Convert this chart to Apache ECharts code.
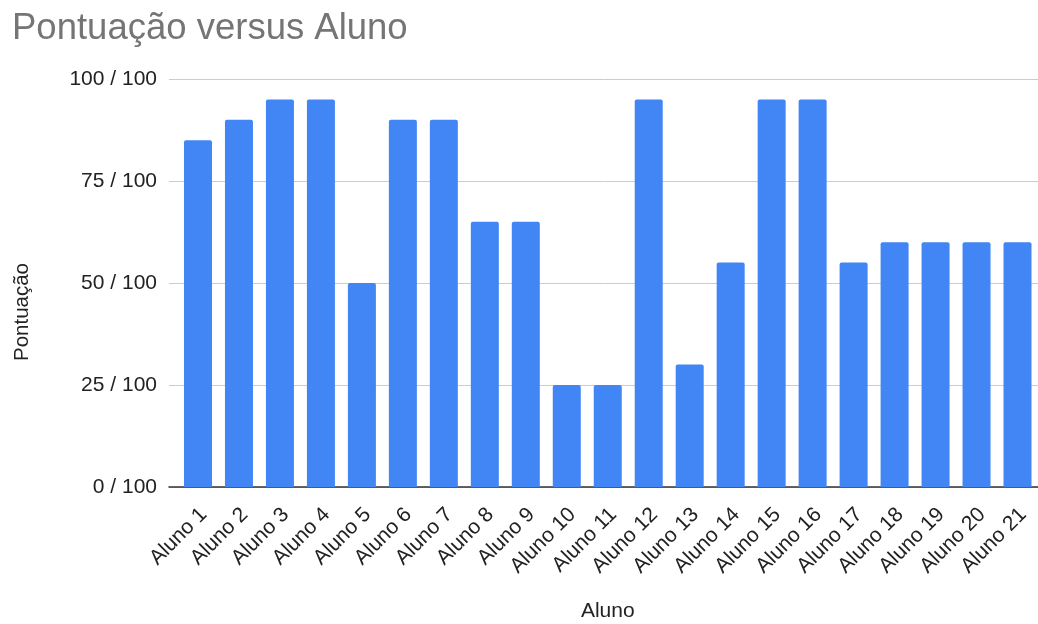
<!DOCTYPE html>
<html>
<head>
<meta charset="utf-8">
<script src="https://cdn.jsdelivr.net/npm/echarts@6/dist/echarts.min.js"></script>
<style>
html,body{margin:0;padding:0;background:#fff;}
#chart{width:1038px;height:624px;}
</style>
</head>
<body>
<div id="chart"></div>
<script>
const categories = ['Aluno 1','Aluno 2','Aluno 3','Aluno 4','Aluno 5','Aluno 6','Aluno 7','Aluno 8','Aluno 9','Aluno 10','Aluno 11','Aluno 12','Aluno 13','Aluno 14','Aluno 15','Aluno 16','Aluno 17','Aluno 18','Aluno 19','Aluno 20','Aluno 21'];
const scores = [85, 90, 95, 95, 50, 90, 90, 65, 65, 25, 25, 95, 30, 55, 95, 95, 55, 60, 60, 60, 60];
const yTickValues = [0, 25, 50, 75, 100];
const yTickLabels = ['0 / 100', '25 / 100', '50 / 100', '75 / 100', '100 / 100'];

const FONT = "'Liberation Sans', Arial, sans-serif";
const chart = echarts.init(document.getElementById('chart'), null, {renderer: 'canvas'});
chart.setOption({
  animation: false,
  backgroundColor: '#ffffff',
  textStyle: {fontFamily: FONT},
  title: {
    text: 'Pontuação versus Aluno',
    left: 7, top: 5,
    textStyle: {fontFamily: FONT, fontSize: 36.5, fontWeight: 'normal', color: '#757575'}
  },
  grid: [
    {left: 177.5, right: 0, top: 79, bottom: 137, containLabel: false, outerBoundsMode: 'none'},
    {left: 169, right: 0, top: 79, bottom: 137, containLabel: false, outerBoundsMode: 'none'},
    {left: 169, right: 0, top: 0, bottom: 0, containLabel: false, outerBoundsMode: 'none'}
  ],
  xAxis: [
    {
      type: 'category', gridIndex: 0, data: categories,
      axisLine: {show: false}, axisTick: {show: false},
      axisLabel: {rotate: 45, interval: 0, fontSize: 21, color: '#222222', margin: 30, padding: [0, -8, 0, 0], fontFamily: FONT},
      name: 'Aluno', nameLocation: 'middle', nameGap: 114,
      nameTextStyle: {fontSize: 21, color: '#222222', fontFamily: FONT}
    },
    {
      type: 'value', gridIndex: 1, min: 0, max: 1,
      axisLine: {show: true, lineStyle: {color: '#333333', width: 1.5}},
      axisTick: {show: false}, axisLabel: {show: false}, splitLine: {show: false}
    },
    {
      type: 'value', gridIndex: 2, min: 0, max: 1, show: false
    }
  ],
  yAxis: [
    {type: 'value', gridIndex: 0, min: 0, max: 100, interval: 25, show: false},
    {
      type: 'value', gridIndex: 1, min: 0, max: 100, interval: 25,
      axisLine: {show: false}, axisTick: {show: false},
      axisLabel: {
        fontSize: 21, color: '#222222', margin: 12, fontFamily: FONT,
        formatter: v => yTickLabels[yTickValues.indexOf(v)]
      },
      splitLine: {show: true, lineStyle: {color: '#cccccc', width: 1}}
    },
    {
      type: 'value', gridIndex: 2, min: 0, max: 1,
      axisLine: {show: false}, axisTick: {show: false}, axisLabel: {show: false}, splitLine: {show: false},
      name: 'Pontuação', nameLocation: 'middle', nameGap: 136,
      nameTextStyle: {fontSize: 20.5, color: '#222222', fontFamily: FONT}
    }
  ],
  series: [{
    type: 'bar', xAxisIndex: 0, yAxisIndex: 0,
    data: scores,
    barWidth: 28,
    itemStyle: {color: '#4285F4', borderRadius: [2, 2, 0, 0]},
    z: 3
  }]
});
</script>
</body>
</html>
